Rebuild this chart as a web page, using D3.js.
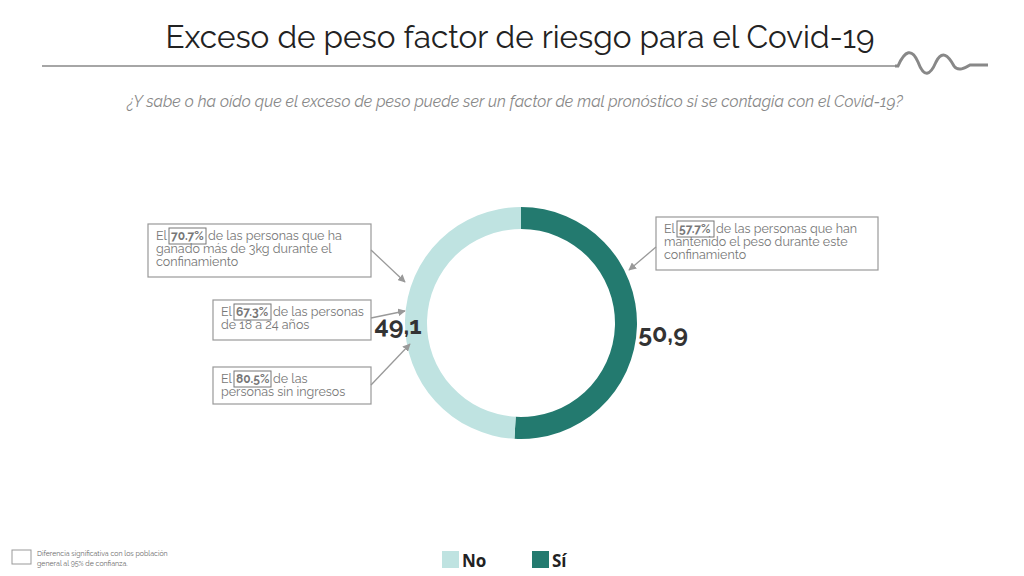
<!DOCTYPE html>
<html><head><meta charset="utf-8">
<script src="https://cdn.jsdelivr.net/npm/d3@7"></script>
<style>body{margin:0;background:#fff}svg{display:block;font-family:Raleway,"Open Sans",sans-serif}</style>
</head><body><svg id="c" width="1024" height="576"></svg>
<script>
const categories = ["Sí","No"];
const values = [50.9, 49.1];
const labels = ["50,9","49,1"];
const colors = ["#237a6f","#bfe3e1"];
const notes = [
 {pct:"70.7%", lines:["de las personas que ha","ganado más de 3kg durante el","confinamiento"]},
 {pct:"67.3%", lines:["de las personas","de 18 a 24 años"]},
 {pct:"80.5%", lines:["de las","personas sin ingresos"]},
 {pct:"57.7%", lines:["de las personas que han","mantenido el peso durante este","confinamiento"]}
];
const svg = d3.select("#c");
svg.append("text").attr("x",520).attr("y",48).attr("text-anchor","middle").attr("font-size",31.5).attr("fill","#222").text("Exceso de peso factor de riesgo para el Covid-19");
svg.append("line").attr("x1",42).attr("x2",898).attr("y1",66).attr("y2",66).attr("stroke","#888").attr("stroke-width",1.5);
svg.append("path").attr("d","M895,66 L898,66 C905,50 912,48 918,62 C924,78 930,76 936,62 C942,50 948,55 954,66 C958,72 965,68 970,65 L988,65").attr("fill","none").attr("stroke","#888").attr("stroke-width",3);
svg.append("text").attr("x",515).attr("y",107).attr("text-anchor","middle").attr("font-size",15.8).attr("font-style","italic").attr("fill","#888").text("¿Y sabe o ha oído que el exceso de peso puede ser un factor de mal pronóstico si se contagia con el Covid-19?");

const cx=521, cy=323;
const pie=d3.pie().sort(null)(values);
const arc=d3.arc().innerRadius(94).outerRadius(116);
const g=svg.append("g").attr("transform",`translate(${cx},${cy})`);
g.selectAll("path").data(pie).join("path").attr("d",arc).attr("fill",(d,i)=>colors[i]);
svg.append("text").attr("x",663).attr("y",342).attr("text-anchor","middle").attr("font-size",25).attr("font-weight","bold").attr("fill","#333").text(labels[0]);
svg.append("text").attr("x",398).attr("y",334).attr("text-anchor","middle").attr("font-size",25).attr("font-weight","bold").attr("fill","#333").text(labels[1]);

svg.append("defs").append("marker").attr("id","ar").attr("viewBox","0 0 10 10").attr("refX",9).attr("refY",5).attr("markerWidth",6).attr("markerHeight",6).attr("orient","auto")
 .append("path").attr("d","M0,0 L10,5 L0,10 z").attr("fill","#999");
const boxes=[{x:148,y:224,w:223,h:53,ax:[371,250,405,282]},{x:213,y:300,w:158,h:40,ax:[371,318,405,311]},{x:213,y:367,w:158,h:37,ax:[371,385,410,344]},{x:656,y:217,w:222,h:53,ax:[656,247,629,270]}];
boxes.forEach((b,i)=>{
 svg.append("rect").attr("x",b.x).attr("y",b.y).attr("width",b.w).attr("height",b.h).attr("fill","#fff").attr("stroke","#999").attr("stroke-width",1.2);
 svg.append("line").attr("x1",b.ax[0]).attr("y1",b.ax[1]).attr("x2",b.ax[2]).attr("y2",b.ax[3]).attr("stroke","#999").attr("stroke-width",1.3).attr("marker-end","url(#ar)");
 const tx=b.x+8, ty=b.y+16;
 svg.append("text").attr("x",tx).attr("y",ty).attr("font-size",12.5).attr("fill","#777").text("El");
 const pw=37;
 svg.append("rect").attr("x",tx+13).attr("y",ty-12).attr("width",pw).attr("height",16).attr("fill","none").attr("stroke","#777").attr("stroke-width",1);
 svg.append("text").attr("x",tx+15).attr("y",ty).attr("font-size",12).attr("font-weight","bold").attr("fill","#777").text(notes[i].pct);
 svg.append("text").attr("x",tx+pw+15).attr("y",ty).attr("font-size",12.5).attr("fill","#777").text(notes[i].lines[0]);
 notes[i].lines.slice(1).forEach((l,j)=>svg.append("text").attr("x",tx).attr("y",ty+13*(j+1)).attr("font-size",12.5).attr("fill","#777").text(l));
});
svg.append("rect").attr("x",12).attr("y",550).attr("width",19).attr("height",14).attr("fill","#fff").attr("stroke","#999");
svg.append("text").attr("x",37).attr("y",556).attr("font-size",7).attr("fill","#666").text("Diferencia significativa con los población");
svg.append("text").attr("x",37).attr("y",566).attr("font-size",7).attr("fill","#666").text("general al 95% de confianza.");
const leg=[{n:"No",c:colors[1],x:442},{n:"Sí",c:colors[0],x:532}];
leg.forEach(l=>{svg.append("rect").attr("x",l.x).attr("y",551).attr("width",17).attr("height",17).attr("fill",l.c);
 svg.append("text").attr("x",l.x+20).attr("y",567).attr("font-size",17).attr("font-weight","bold").attr("font-family","'Open Sans',sans-serif").attr("fill","#222").text(l.n);});
</script></body></html>
